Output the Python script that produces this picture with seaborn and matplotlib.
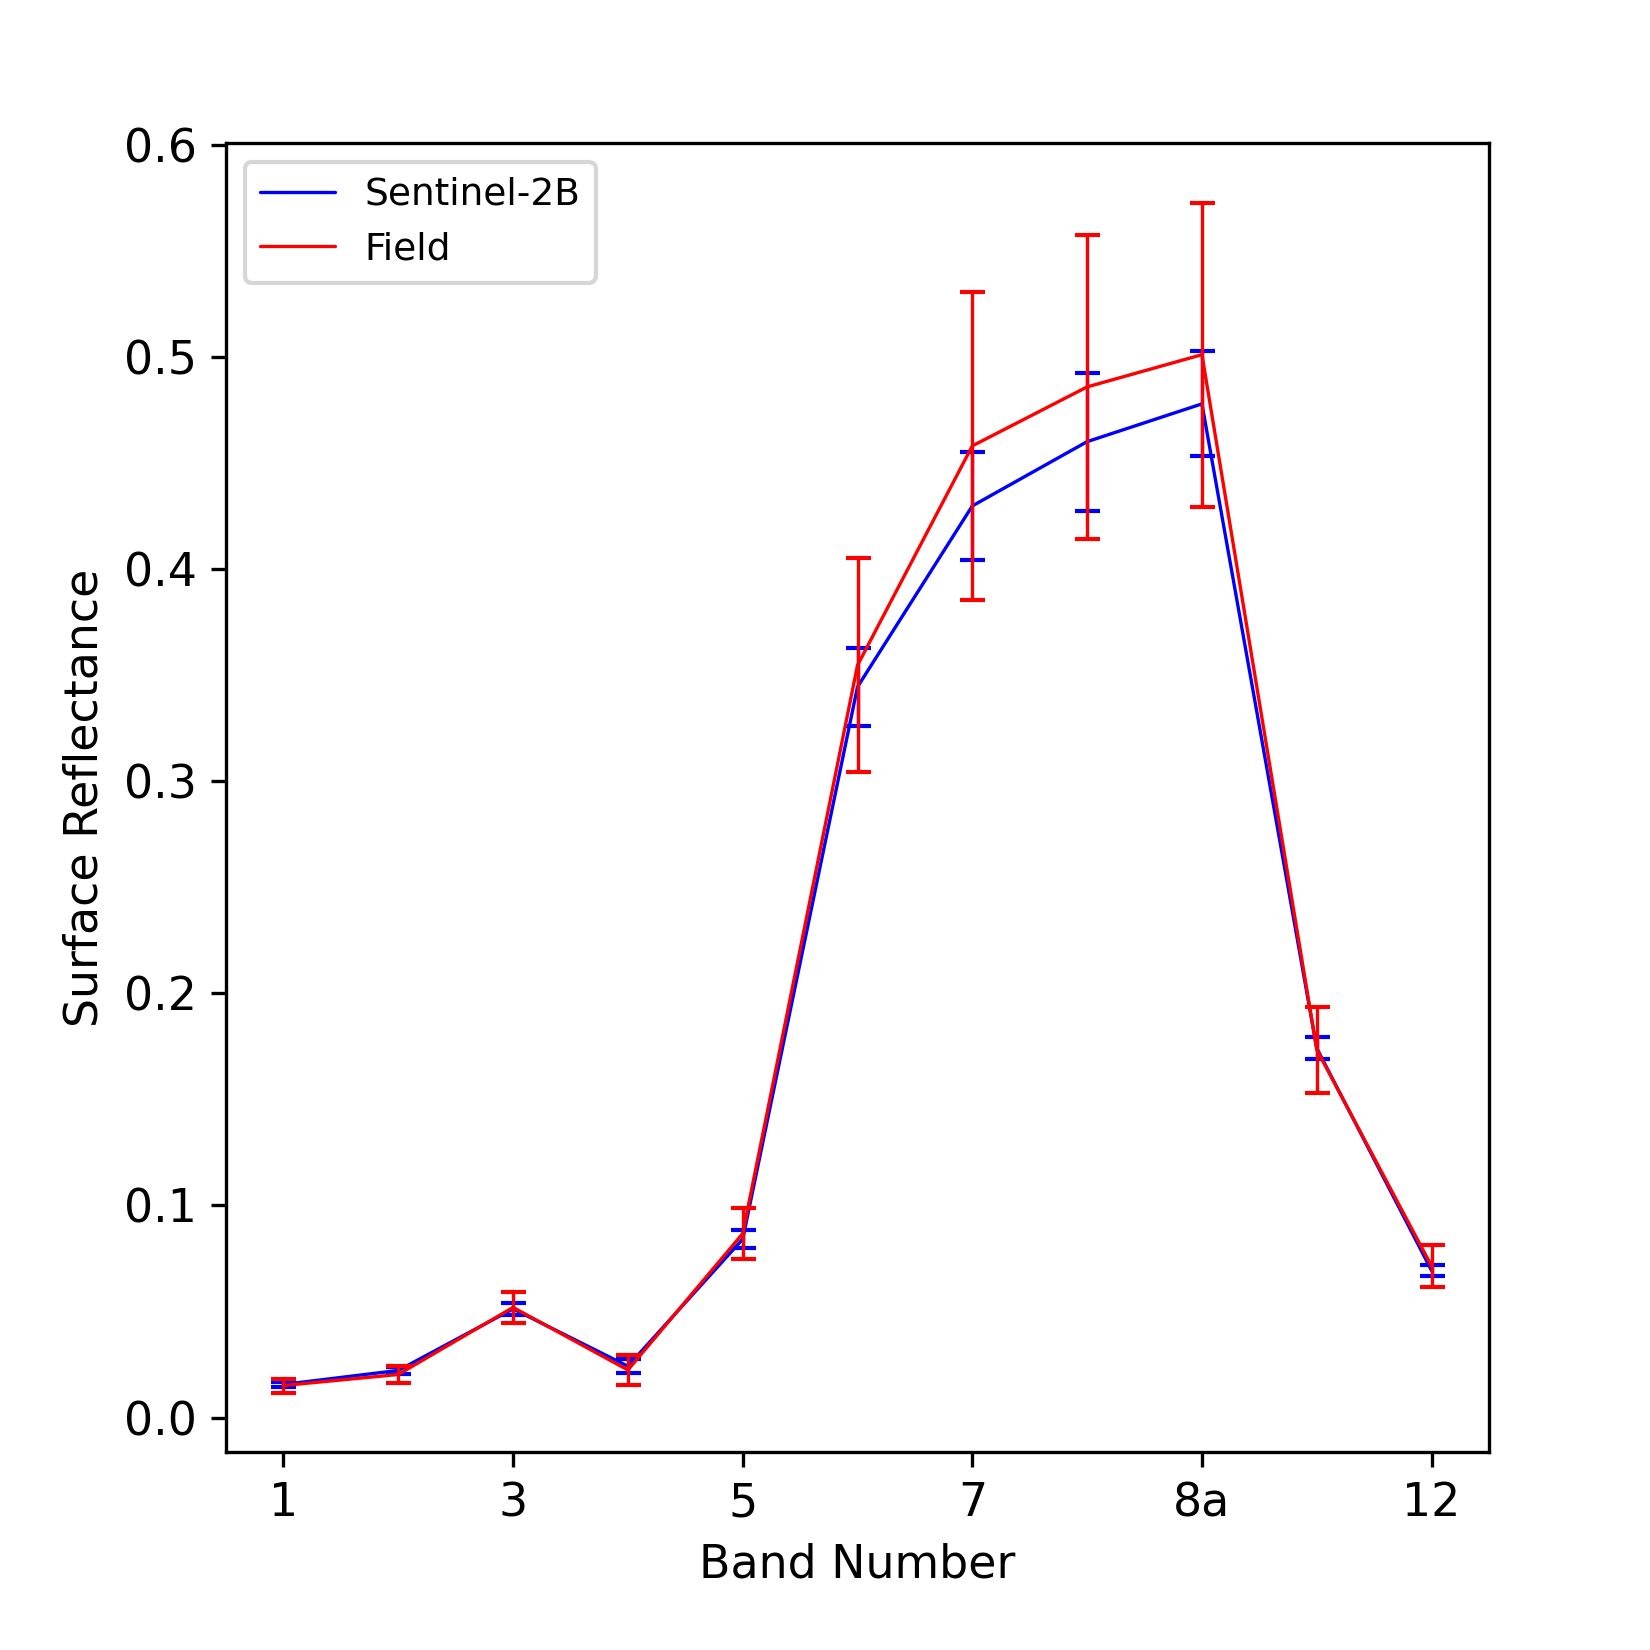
import numpy as np
import pandas as pd
import matplotlib
matplotlib.use("Agg")
import matplotlib.pyplot as plt
import seaborn as sns

# Sentinel-2 bands
bands = ['1', '2', '3', '4', '5', '6', '7', '8', '8a', '11', '12']

# mean surface reflectance and std
s2b_mean = [0.0156, 0.0222, 0.0512, 0.0242, 0.0841, 0.3444, 0.4297, 0.4600, 0.4778, 0.1741, 0.0693]
s2b_std = [0.0010, 0.0016, 0.0028, 0.0032, 0.0042, 0.0182, 0.0254, 0.0325, 0.0247, 0.0053, 0.0026]

field_mean = [0.0151, 0.0203, 0.0519, 0.0224, 0.0867, 0.3546, 0.4580, 0.4858, 0.5010, 0.1734, 0.0714]
field_std = [0.0033, 0.0041, 0.0073, 0.0071, 0.0120, 0.0505, 0.0725, 0.0715, 0.0717, 0.0202, 0.0099]

sns.set_style("ticks")
plt.rcParams['font.family'] = ['DejaVu Sans']
plt.rcParams['font.size'] = 11
for k in ['text.color', 'axes.labelcolor', 'xtick.color', 'ytick.color', 'axes.edgecolor']:
    plt.rcParams[k] = 'black'

pos = np.arange(len(bands))
df = pd.DataFrame({'pos': pos, 's2b': s2b_mean, 'field': field_mean})

fig, ax = plt.subplots(figsize=(5.5, 5.5), dpi=300)
fig.subplots_adjust(left=0.137, right=0.9024, bottom=0.12, top=0.9133)

lw = 0.8
sns.lineplot(data=df, x='pos', y='s2b', color='blue', lw=lw, label='Sentinel-2B', ax=ax)
ax.errorbar(pos, s2b_mean, yerr=s2b_std, fmt='none', ecolor='blue', elinewidth=lw, capsize=3, capthick=1.0)
sns.lineplot(data=df, x='pos', y='field', color='red', lw=lw, label='Field', ax=ax)
ax.errorbar(pos, field_mean, yerr=field_std, fmt='none', ecolor='red', elinewidth=lw, capsize=3, capthick=1.0)

ax.set_xticks(pos[::2])
ax.set_xticklabels(bands[::2])
ax.set_xlabel('Band Number', fontsize=11)
ax.set_ylabel('Surface Reflectance', fontsize=11)
ax.tick_params(labelsize=11, colors='black')
for s in ax.spines.values():
    s.set_visible(True)
    s.set_color('black')
    s.set_linewidth(0.8)

ax.legend(loc='upper left', fontsize=9)

fig.savefig('out.png', dpi=300)
